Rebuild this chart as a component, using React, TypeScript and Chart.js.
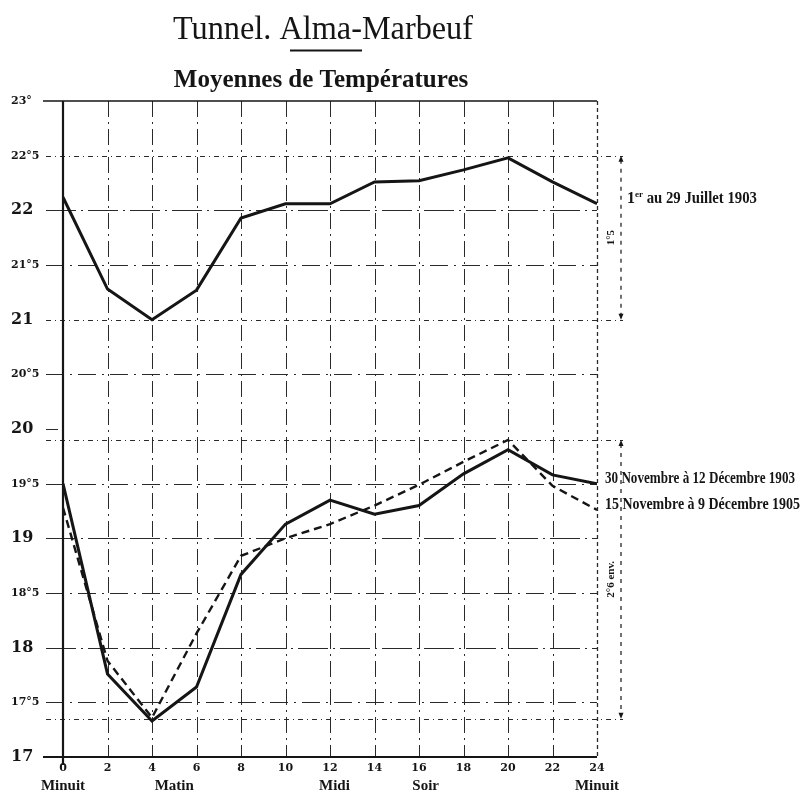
import React, { useEffect, useRef } from "react";
import { Chart, registerables } from "chart.js";

Chart.register(...registerables);

const hours = [0, 2, 4, 6, 8, 10, 12, 14, 16, 18, 20, 22, 24];
const julyTemps = [22.12, 21.28, 21.0, 21.27, 21.93, 22.06, 22.06, 22.26, 22.27, 22.37, 22.48, 22.26, 22.06];
const dec1903Temps = [19.5, 17.76, 17.33, 17.64, 18.67, 19.13, 19.35, 19.22, 19.3, 19.59, 19.81, 19.58, 19.5];
const dec1905Temps = [19.28, 17.88, 17.36, 18.13, 18.84, 19.0, 19.13, 19.3, 19.49, 19.7, 19.9, 19.48, 19.26];

const seriesLabels = ["1er au 29 Juillet 1903", "30 Novembre à 12 Décembre 1903", "15 Novembre à 9 Décembre 1905"];
const periodWords = [
  { hour: 0, text: "Minuit" },
  { hour: 5, text: "Matin" },
  { hour: 12.2, text: "Midi" },
  { hour: 16.3, text: "Soir" },
  { hour: 24, text: "Minuit" },
];
const refLevels = [22.5, 21, 19.9, 17.35];
const spans = [
  { from: 22.5, to: 21, text: "1°5" },
  { from: 19.9, to: 17.35, text: "2°6 env." },
];

const INK = "#151515";

const decorPlugin = {
  id: "decor",
  beforeDatasetsDraw(chart: any) {
    const { ctx, chartArea, scales } = chart;
    const { left, right, top, bottom } = chartArea;
    const x = scales.x;
    const y = scales.y;
    const line = (x1: number, y1: number, x2: number, y2: number) => {
      ctx.beginPath();
      ctx.moveTo(x1, y1);
      ctx.lineTo(x2, y2);
      ctx.stroke();
    };
    ctx.save();
    ctx.strokeStyle = "#2a2a2a";
    ctx.lineWidth = 1;
    // vertical grid
    for (const h of hours) {
      if (h === 0) continue;
      const px = Math.round(x.getPixelForValue(h)) + 0.5;
      ctx.setLineDash(h === 24 ? [4, 3] : [16, 5, 2, 5]);
      ctx.lineWidth = h === 24 ? 1.3 : 1;
      line(px, top, px, bottom);
    }
    // horizontal grid
    ctx.lineWidth = 1;
    for (let v = 17.5; v < 23; v += 0.5) {
      if (v === 20) continue;
      const py = Math.round(y.getPixelForValue(v)) + 0.5;
      if (refLevels.includes(v)) continue;
      ctx.setLineDash(Number.isInteger(v) ? [30, 5, 2, 5] : [18, 6, 2, 6]);
      line(left - 17, py, right, py);
    }
    // tick dash at 20
    ctx.setLineDash([]);
    {
      const py = Math.round(y.getPixelForValue(20)) + 0.5;
      line(left - 17, py, left - 5, py);
    }
    // reference dotted lines
    for (const v of refLevels) {
      const py = Math.round(y.getPixelForValue(v)) + 0.5;
      ctx.setLineDash([5, 4, 1, 4]);
      line(left - 17, py, right + 26, py);
    }
    // axes
    ctx.setLineDash([]);
    ctx.strokeStyle = INK;
    ctx.lineWidth = 2.2;
    line(left, top, left, bottom + 8);
    line(left - 20, bottom, right, bottom);
    ctx.lineWidth = 1.6;
    line(left - 20, top, right, top);
    // dimension spans
    ctx.lineWidth = 1.2;
    const sx = right + 24;
    for (const s of spans) {
      const y1 = y.getPixelForValue(s.from);
      const y2 = y.getPixelForValue(s.to);
      ctx.setLineDash([4, 5]);
      line(sx, y1 + 4, sx, y2 - 4);
      ctx.setLineDash([]);
      ctx.fillStyle = INK;
      ctx.beginPath();
      ctx.moveTo(sx, y1);
      ctx.lineTo(sx - 2.5, y1 + 6);
      ctx.lineTo(sx + 2.5, y1 + 6);
      ctx.closePath();
      ctx.fill();
      ctx.beginPath();
      ctx.moveTo(sx, y2);
      ctx.lineTo(sx - 2.5, y2 - 6);
      ctx.lineTo(sx + 2.5, y2 - 6);
      ctx.closePath();
      ctx.fill();
      ctx.save();
      ctx.translate(sx - 10, (y1 + y2) / 2);
      ctx.rotate(-Math.PI / 2);
      ctx.font = "bold 11px 'Liberation Serif'";
      ctx.textAlign = "center";
      ctx.textBaseline = "middle";
      ctx.fillText(s.text, 0, 0);
      ctx.restore();
    }
    ctx.restore();
  },
  afterDraw(chart: any) {
    const { ctx, chartArea, scales } = chart;
    const { right, bottom } = chartArea;
    const x = scales.x;
    const y = scales.y;
    ctx.save();
    ctx.fillStyle = INK;
    ctx.strokeStyle = INK;
    // title
    ctx.textAlign = "center";
    ctx.textBaseline = "alphabetic";
    ctx.font = "33px 'Liberation Serif'";
    ctx.fillText("Tunnel. Alma-Marbeuf", 323, 39, 300);
    ctx.lineWidth = 2;
    ctx.beginPath();
    ctx.moveTo(290, 50.5);
    ctx.lineTo(362, 50.5);
    ctx.stroke();
    ctx.font = "bold 25px 'Liberation Serif'";
    ctx.fillText("Moyennes de Températures", 321, 87, 308);
    // period words
    ctx.font = "bold 15px 'Liberation Serif'";
    for (const p of periodWords) {
      ctx.fillText(p.text, x.getPixelForValue(p.hour), bottom + 33, 48);
    }
    // series labels
    ctx.textAlign = "left";
    ctx.textBaseline = "middle";
    const ends = [julyTemps, dec1903Temps, dec1905Temps].map((a) => a[a.length - 1]);
    const starts = [right + 30, right + 8, right + 8];
    const widths = [130, 190, 195];
    ends.forEach((v, i) => {
      const py = y.getPixelForValue(v) - 5;
      ctx.font = "bold 16px 'Liberation Serif'";
      if (i === 0) {
        let cx = starts[0];
        ctx.fillText("1", cx, py);
        cx += ctx.measureText("1").width;
        ctx.font = "bold 9px 'Liberation Serif'";
        ctx.fillText("er", cx, py - 4);
        cx += ctx.measureText("er").width;
        ctx.font = "bold 16px 'Liberation Serif'";
        const rest = seriesLabels[0].slice(3);
        ctx.fillText(rest, cx, py, widths[0] - (cx - starts[0]));
      } else {
        ctx.fillText(seriesLabels[i], starts[i], py, widths[i]);
      }
    });
    ctx.restore();
  },
};

export default function App() {
  const ref = useRef<HTMLCanvasElement | null>(null);
  useEffect(() => {
    if (!ref.current) return;
    const mk = (vals: number[]) => hours.map((h, i) => ({ x: h, y: vals[i] }));
    const chart = new Chart(ref.current, {
      type: "line",
      data: {
        datasets: [
          { label: seriesLabels[0], data: mk(julyTemps), borderColor: INK, borderWidth: 3, pointRadius: 0, tension: 0 },
          { label: seriesLabels[1], data: mk(dec1903Temps), borderColor: INK, borderWidth: 3, pointRadius: 0, tension: 0 },
          { label: seriesLabels[2], data: mk(dec1905Temps), borderColor: INK, borderWidth: 2.4, borderDash: [8, 5], pointRadius: 0, tension: 0 },
        ],
      },
      options: {
        responsive: false,
        animation: false,
        layout: { padding: { left: 11, right: 206, top: 101, bottom: 0 } },
        plugins: { legend: { display: false }, tooltip: { enabled: false }, title: { display: false } },
        scales: {
          x: {
            type: "linear",
            min: 0,
            max: 24,
            grid: { display: false, drawTicks: false },
            border: { display: false },
            afterFit: (s: any) => { s.height = 37; },
            ticks: {
              stepSize: 2,
              padding: 5,
              color: INK,
              font: { family: "'DejaVu Serif'", weight: "bold", size: 11 },
              maxRotation: 0,
              autoSkip: false,
            },
          },
          y: {
            type: "linear",
            min: 17,
            max: 23,
            grid: { display: false, drawTicks: false },
            border: { display: false },
            afterFit: (s: any) => { s.width = 52; },
            ticks: {
              stepSize: 0.5,
              crossAlign: "far",
              padding: 0,
              color: INK,
              autoSkip: false,
              font: (c: any) => {
                const v = c.tick ? c.tick.value : 0;
                return Number.isInteger(v) && v !== 23
                  ? { family: "'DejaVu Serif'", weight: "bold", size: 16 }
                  : { family: "'DejaVu Serif'", weight: "bold", size: 11 };
              },
              callback: (v: any) => {
                const n = Number(v);
                if (n === 23) return "23°";
                if (Number.isInteger(n)) return String(n);
                return `${Math.floor(n)}°5`;
              },
            },
          },
        },
      },
      plugins: [decorPlugin],
    } as any);
    return () => chart.destroy();
  }, []);
  return (
    <div style={{ position: "absolute", left: 0, top: 0, width: 803, height: 794, background: "#fff" }}>
      <canvas ref={ref} width={803} height={794} style={{ display: "block" }} />
    </div>
  );
}
